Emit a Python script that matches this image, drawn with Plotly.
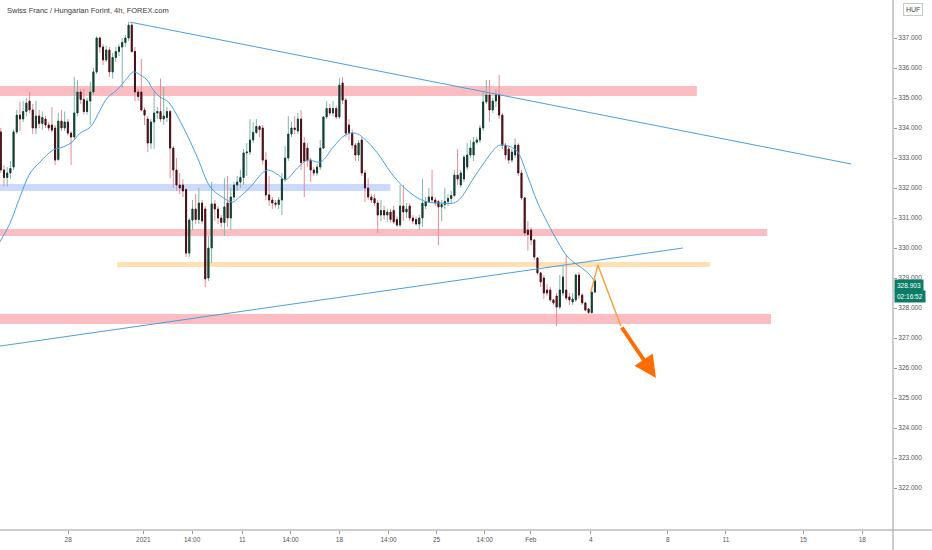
import plotly.graph_objects as go

# 4h candles (index = bar number)
opens = [333.87, 332.6, 332.35, 332.5, 332.7, 333.87, 334.43, 334.3, 334.55, 334.9,
         334.6, 334.0, 334.4, 334.15, 334.3, 334.1, 334.1, 334.0, 332.95, 334.23,
         334.0, 334.2, 333.83, 333.7, 334.5, 335.2, 334.95, 334.55, 334.9, 335.2,
         335.87, 337.0, 336.7, 336.27, 336.6, 335.87, 336.35, 336.55, 336.7, 336.85,
         337.0, 337.43, 336.55, 335.2, 335.2, 334.6, 334.3, 333.5, 334.2, 334.5,
         334.55, 334.3, 334.35, 334.55, 333.33, 332.6, 332.1, 332.1, 331.95, 329.83,
         330.93, 331.3, 330.95, 331.5, 331.3, 329.0, 330.0, 331.47, 331.3, 331.0,
         330.85, 331.5, 331.0, 331.7, 332.1, 332.2, 332.35, 333.17, 333.2, 333.6,
         333.85, 334.05, 334.0, 332.93, 331.77, 331.6, 331.5, 331.45, 331.6, 332.3,
         333.0, 333.8, 334.0, 333.9, 334.3, 333.5, 333.33, 332.93, 332.6, 332.5,
         332.7, 333.33, 334.37, 334.65, 334.5, 334.65, 334.37, 335.5, 334.93, 334.1,
         333.83, 333.43, 333.1, 333.6, 332.5, 332.0, 331.7, 331.65, 331.5, 331.1,
         331.25, 331.1, 331.2, 331.25, 330.95, 330.77, 331.4, 331.2, 331.4, 331.0,
         330.95, 330.8, 331.0, 331.4, 331.55, 331.7, 331.6, 331.55, 331.37, 331.45,
         331.55, 331.65, 331.75, 332.43, 332.1, 332.3, 332.7, 333.1, 333.1, 333.53,
         333.6, 334.0, 334.87, 335.1, 334.6, 334.9, 335.1, 334.43, 333.43, 333.3,
         332.93, 333.1, 333.43, 332.5, 331.67, 330.6, 330.6, 330.27, 329.67, 329.17,
         329.0, 328.6, 328.6, 328.27, 328.4, 328.03, 328.5, 328.6, 328.37, 328.2,
         328.27, 329.1, 328.43, 328.17, 327.97, 327.85, 328.53]
highs = [334.0, 332.75, 332.7, 332.9, 333.95, 334.6, 334.87, 334.9, 335.0, 335.2,
         334.8, 334.9, 334.6, 334.55, 334.4, 334.2, 334.7, 334.1, 334.5, 334.6,
         334.55, 334.3, 333.9, 335.7, 335.6, 335.3, 335.3, 335.0, 335.55, 336.0,
         337.05, 337.05, 336.8, 336.75, 336.7, 336.5, 336.7, 336.8, 337.0, 337.1,
         337.55, 337.5, 336.7, 335.3, 336.3, 334.7, 334.4, 334.3, 335.2, 334.7,
         335.65, 335.37, 334.7, 334.6, 333.4, 333.0, 332.5, 332.3, 332.0, 331.0,
         331.6, 331.8, 332.0, 331.6, 331.4, 330.4, 332.2, 331.6, 331.4, 331.1,
         332.33, 332.4, 332.0, 332.2, 332.4, 332.6, 333.3, 333.5, 334.3, 334.2,
         334.3, 334.1, 334.1, 333.2, 332.4, 331.7, 331.6, 331.7, 332.5, 333.4,
         334.4, 334.2, 334.4, 334.5, 334.6, 333.7, 333.5, 333.0, 332.7, 332.8,
         333.6, 334.4, 334.9, 334.8, 334.9, 334.75, 335.67, 335.7, 335.0, 334.3,
         333.95, 333.5, 333.6, 333.7, 332.6, 332.33, 331.8, 331.8, 331.6, 331.6,
         331.4, 331.3, 331.3, 331.4, 331.05, 332.1, 332.1, 331.5, 331.5, 331.1,
         331.05, 331.1, 332.3, 331.7, 332.0, 332.6, 331.7, 331.6, 331.6, 332.0,
         331.8, 331.9, 332.6, 333.3, 332.6, 333.1, 333.5, 333.6, 333.7, 333.7,
         334.1, 335.2, 335.6, 335.6, 335.0, 335.3, 335.77, 334.5, 333.5, 333.4,
         333.3, 333.65, 333.5, 332.6, 331.7, 330.9, 330.7, 330.3, 329.7, 329.2,
         329.1, 328.8, 328.7, 328.3, 328.5, 329.1, 329.4, 329.77, 328.5, 328.5,
         329.15, 329.2, 328.5, 328.2, 328.0, 328.6, 329.0]
lows = [332.5, 332.05, 332.05, 332.3, 332.6, 333.8, 333.9, 334.2, 334.4, 334.5,
        333.8, 333.8, 334.0, 333.95, 334.0, 333.9, 333.85, 332.77, 332.9, 333.9,
        333.9, 333.75, 332.77, 333.6, 334.4, 334.8, 334.45, 334.45, 334.1, 335.1,
        335.8, 336.5, 336.1, 336.2, 335.7, 335.65, 336.2, 336.4, 335.33, 336.7,
        336.9, 336.5, 334.9, 334.9, 334.55, 334.1, 333.2, 333.3, 333.3, 334.3,
        334.2, 334.1, 334.2, 332.33, 332.0, 331.9, 331.8, 331.7, 329.7, 329.7,
        330.6, 330.8, 330.8, 330.8, 328.7, 328.9, 329.5, 330.9, 330.8, 330.7,
        330.4, 330.7, 330.6, 331.6, 331.9, 332.0, 332.1, 332.4, 333.1, 333.5,
        333.8, 333.7, 332.8, 331.6, 331.4, 331.3, 331.35, 331.3, 331.1, 332.2,
        332.9, 333.7, 333.8, 333.8, 332.6, 331.7, 332.7, 332.2, 332.4, 332.4,
        332.6, 333.3, 334.3, 334.4, 334.4, 334.3, 334.3, 334.8, 333.7, 333.6,
        333.3, 332.9, 332.9, 332.4, 331.53, 331.6, 331.5, 331.4, 330.5, 330.9,
        330.95, 330.87, 330.85, 330.8, 330.7, 330.7, 330.9, 331.0, 330.9, 330.8,
        330.75, 330.6, 330.7, 331.3, 331.5, 331.5, 331.4, 330.1, 330.9, 331.3,
        331.4, 331.5, 331.7, 332.1, 332.0, 332.2, 332.6, 333.0, 332.9, 333.45,
        333.5, 333.9, 334.8, 334.2, 334.5, 334.7, 334.3, 333.3, 332.95, 332.8,
        332.85, 333.0, 332.4, 331.6, 330.4, 329.9, 330.1, 329.6, 329.1, 328.7,
        328.3, 328.4, 328.2, 328.1, 327.4, 327.95, 328.4, 328.25, 328.1, 328.1,
        328.2, 328.3, 328.1, 327.9, 327.8, 327.8, 328.5]
closes = [332.6, 332.35, 332.5, 332.65, 333.87, 334.43, 334.3, 334.55, 334.83, 334.6,
          334.0, 334.4, 334.15, 334.35, 334.1, 334.0, 333.93, 332.93, 334.23, 334.0,
          334.2, 333.83, 333.7, 334.5, 335.2, 334.95, 334.55, 334.9, 335.2, 335.87,
          337.0, 336.7, 336.27, 336.6, 335.87, 336.35, 336.55, 336.7, 336.85, 337.0,
          337.43, 336.55, 335.2, 335.05, 334.6, 334.43, 333.5, 334.2, 334.5, 334.55,
          334.3, 334.4, 334.55, 333.33, 332.6, 332.1, 332.0, 331.9, 329.83, 330.93,
          331.3, 330.95, 331.5, 330.9, 328.97, 330.0, 331.47, 331.3, 331.0, 330.85,
          331.37, 331.0, 331.7, 332.1, 332.2, 332.35, 333.17, 333.2, 333.6, 333.85,
          334.05, 333.95, 332.93, 331.77, 331.6, 331.5, 331.45, 331.6, 332.3, 333.0,
          333.8, 334.0, 333.95, 334.3, 332.85, 332.9, 332.93, 332.6, 332.5, 332.7,
          333.33, 334.37, 334.65, 334.5, 334.65, 334.37, 335.43, 334.93, 333.83, 333.85,
          333.43, 333.1, 333.5, 332.5, 332.0, 331.7, 331.6, 331.5, 331.1, 331.25,
          331.1, 331.2, 330.95, 330.87, 330.77, 331.4, 331.2, 331.3, 331.0, 330.9,
          330.8, 331.0, 331.5, 331.55, 331.7, 331.6, 331.5, 331.37, 331.45, 331.55,
          331.65, 331.75, 332.43, 332.3, 332.5, 333.03, 333.1, 333.33, 333.53, 333.6,
          334.0, 334.87, 335.1, 334.6, 334.9, 335.1, 334.43, 333.43, 333.1, 332.93,
          333.2, 333.43, 332.5, 331.67, 330.5, 330.45, 330.27, 329.7, 329.17, 328.87,
          328.5, 328.5, 328.27, 328.17, 328.03, 328.6, 329.03, 328.33, 328.27, 328.3,
          329.1, 328.43, 328.17, 327.93, 327.85, 328.53, 328.903]
bars = list(range(len(closes)))

# moving average line, sampled from the chart (bar, price)
ma_bar = [-0.3, 2.9, 6.0, 9.2, 12.3, 16.4, 19.5, 22.3, 24.8, 28.0, 31.1, 33.3, 36.4,
          39.6, 41.4, 42.7, 45.8, 47.7, 49.9, 52.4, 57.1, 61.5, 65.6, 69.3, 72.5,
          74.4, 78.1, 82.2, 83.8, 86.9, 89.1, 92.9, 96.0, 100.1, 104.1, 107.9, 111.0,
          113.5, 117.9, 122.0, 126.1, 130.5, 133.6, 137.7, 141.8, 144.0, 148.0, 151.2,
          154.3, 156.2, 159.6, 161.8, 165.0, 168.1, 171.2, 174.4, 177.5, 180.6, 183.8,
          185.6]
ma_val = [330.2, 330.83, 331.7, 332.5, 332.87, 333.27, 333.37, 333.53, 333.83, 334.03,
          334.6, 335.0, 335.27, 335.67, 335.87, 335.83, 335.6, 335.27, 335.03, 334.87,
          334.03, 333.03, 332.03, 331.7, 331.53, 331.67, 332.03, 332.53, 332.6, 332.43,
          332.27, 332.67, 332.93, 332.87, 333.37, 333.77, 333.83, 333.67, 333.17, 332.53,
          332.03, 331.67, 331.53, 331.5, 331.5, 331.67, 332.33, 332.83, 333.27, 333.43,
          333.37, 333.2, 332.37, 331.5, 330.83, 330.2, 329.7, 329.43, 329.17, 328.93]

# drawings
down_line = ([40.5, 266.2], [337.53, 332.8])
up_line = ([-0.3, 213.5], [326.73, 330.0])
zones = [  # x0, x1, y0, y1, colour
    (-0.3, 217.9, 335.07, 335.4, "rgba(242,54,69,0.33)"),
    (-0.3, 239.9, 330.4, 330.63, "rgba(242,54,69,0.33)"),
    (-0.3, 241.1, 327.47, 327.8, "rgba(242,54,69,0.33)"),
    (-0.3, 122.0, 331.9, 332.13, "rgba(41,98,255,0.24)"),
    (36.4, 222.0, 329.37, 329.53, "rgba(255,152,0,0.30)"),
]
path_bar = [184.7, 186.9, 194.1]
path_val = [328.53, 329.43, 327.4]
arrow_from = (194.1, 327.4)
arrow_to = (205.1, 325.67)

tick_bars = [21.1, 44.6, 59.9, 75.6, 90.7, 106.0, 121.4, 136.4, 151.5, 165.9,
             184.7, 208.8, 227.0, 251.2, 269.7]
tick_text = ["28", "2021", "14:00", "11", "14:00", "18", "14:00", "25", "14:00",
             "Feb", "4", "8", "11", "15", "18"]
price_ticks = list(range(322, 338))  # 338 sits under the HUF badge

inc_wick, inc_body = "#7db8a6", "#163c30"
dec_wick, dec_body = "#e58c97", "#401419"
blue = "#4a9fe0"

fig = go.Figure()

# wicks
fig.add_trace(go.Candlestick(
    x=bars, open=opens, high=highs, low=lows, close=closes,
    increasing=dict(line=dict(color=inc_wick, width=1), fillcolor=inc_wick),
    decreasing=dict(line=dict(color=dec_wick, width=1), fillcolor=dec_wick),
    whiskerwidth=0, showlegend=False, hoverinfo="skip"))

# dark bodies on top
body_hi = [max(o, c) for o, c in zip(opens, closes)]
body_lo = [min(o, c) for o, c in zip(opens, closes)]
fig.add_trace(go.Candlestick(
    x=bars, open=opens, high=body_hi, low=body_lo, close=closes,
    increasing=dict(line=dict(color=inc_body, width=1), fillcolor=inc_body),
    decreasing=dict(line=dict(color=dec_body, width=1), fillcolor=dec_body),
    whiskerwidth=0, showlegend=False))

fig.add_trace(go.Scatter(x=ma_bar, y=ma_val, mode="lines", line=dict(color=blue, width=1, shape="spline"),
                         showlegend=False, hoverinfo="skip"))
fig.add_trace(go.Scatter(x=down_line[0], y=down_line[1], mode="lines", line=dict(color=blue, width=1),
                         showlegend=False))
fig.add_trace(go.Scatter(x=up_line[0], y=up_line[1], mode="lines", line=dict(color=blue, width=1),
                         showlegend=False))
fig.add_trace(go.Scatter(x=path_bar, y=path_val, mode="lines", line=dict(color="#f5a340", width=1.5),
                         showlegend=False))

for x0, x1, y0, y1, col in zones:
    fig.add_shape(type="rect", x0=x0, x1=x1, y0=y0, y1=y1, fillcolor=col,
                  line=dict(width=0), layer="below")

# axis lines running into the price scale corner
fig.add_shape(type="line", xref="paper", yref="paper", x0=1, x1=1, y0=-0.04, y1=1,
              line=dict(color="#9a9a9a", width=1))
fig.add_shape(type="line", xref="paper", yref="paper", x0=0, x1=1.05, y0=0, y1=0,
              line=dict(color="#9a9a9a", width=1))

fig.add_annotation(x=arrow_to[0], y=arrow_to[1], ax=arrow_from[0], ay=arrow_from[1],
                   xref="x", yref="y", axref="x", ayref="y", text="", showarrow=True,
                   arrowhead=2, arrowsize=1.1, arrowwidth=4, arrowcolor="#ff6d00")

fig.add_annotation(xref="paper", yref="paper", x=0.006, y=0.981, xanchor="left", yanchor="middle",
                   text="Swiss Franc / Hungarian Forint, 4h, FOREX.com", showarrow=False,
                   font=dict(size=7.5, color="#3b3b3b"))
fig.add_annotation(xref="paper", yref="paper", x=1.0224, y=0.983, xanchor="center", yanchor="middle",
                   text="HUF", showarrow=False, font=dict(size=7, color="#444"), bgcolor="white",
                   bordercolor="#c8c8c8", borderwidth=1, borderpad=2)
fig.add_annotation(xref="paper", yref="paper", x=1.001, y=0.4604, xanchor="left", yanchor="middle",
                   text=f"{closes[-1]:.3f}", showarrow=False, font=dict(size=6.5, color="white"),
                   bgcolor="#0b7d67", borderpad=2)
fig.add_annotation(xref="paper", yref="paper", x=1.001, y=0.4415, xanchor="left", yanchor="middle",
                   text="02:16:52", showarrow=False, font=dict(size=6.5, color="white"),
                   bgcolor="#0b7d67", borderpad=2)

fig.update_layout(
    width=932, height=550,
    margin=dict(l=0, r=39, t=0, b=20),
    paper_bgcolor="white", plot_bgcolor="white",
    font=dict(family="Liberation Sans", size=6.5, color="#555"),
    boxgap=0.55,
    hovermode=False,
    xaxis=dict(range=[-0.25, 279.3], showgrid=False, zeroline=False, rangeslider=dict(visible=False),
               tickmode="array", tickvals=tick_bars, ticktext=tick_text,
               ticks="outside", ticklen=3, tickcolor="#9a9a9a", showline=False),
    yaxis=dict(range=[320.6, 338.267], side="right", showgrid=False, zeroline=False,
               tickmode="array", tickvals=price_ticks, ticktext=[f"{v:.3f}" for v in price_ticks],
               ticks="outside", ticklen=3, tickcolor="#9a9a9a", showline=False),
)

# the page body has a default 8px margin; drop it so the chart fills the window
fig.write_html("out.html", config={"displayModeBar": False},
               post_script="document.body.style.margin='0';")
